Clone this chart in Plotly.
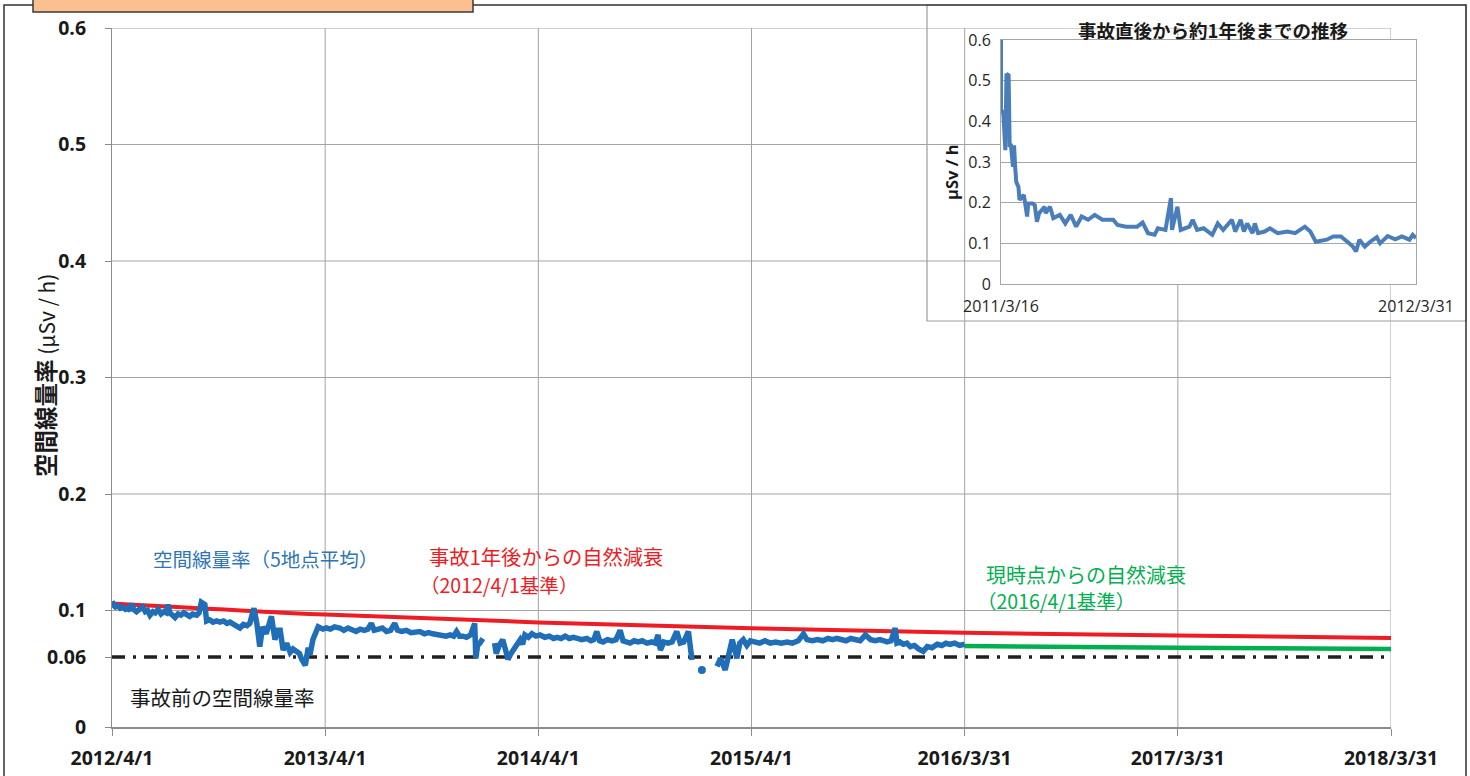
import plotly.graph_objects as go

W, H = 1470, 776
def px(x): return x / W
def py(y): return 1 - y / H

# ---------------- data ----------------
x_tick_dates = ["2012-04-01", "2013-04-01", "2014-04-01", "2015-04-01", "2016-03-31", "2017-03-31", "2018-03-31"]
x_tick_labels = ["2012/4/1", "2013/4/1", "2014/4/1", "2015/4/1", "2016/3/31", "2017/3/31", "2018/3/31"]
y_tick_vals = [0, 0.06, 0.1, 0.2, 0.3, 0.4, 0.5, 0.6]
y_tick_labels = ["0", "0.06", "0.1", "0.2", "0.3", "0.4", "0.5", "0.6"]
y_grid_vals = [0.1, 0.2, 0.3, 0.4, 0.5, 0.6]

rate_dates = [
    "2012-04-01", "2012-04-03", "2012-04-07", "2012-04-11", "2012-04-15", "2012-04-19", "2012-04-24", "2012-04-28",
    "2012-05-02", "2012-05-05", "2012-05-08", "2012-05-13", "2012-05-18", "2012-05-24", "2012-05-28", "2012-06-01",
    "2012-06-05", "2012-06-10", "2012-06-14", "2012-06-19", "2012-06-24", "2012-06-29", "2012-07-03", "2012-07-06",
    "2012-07-09", "2012-07-14", "2012-07-18", "2012-07-23", "2012-07-28", "2012-08-02", "2012-08-07", "2012-08-12",
    "2012-08-17", "2012-08-24", "2012-08-28", "2012-09-01", "2012-09-07", "2012-09-10", "2012-09-15", "2012-09-21",
    "2012-09-27", "2012-10-03", "2012-10-09", "2012-10-15", "2012-10-20", "2012-10-25", "2012-10-30", "2012-11-06",
    "2012-11-12", "2012-11-18", "2012-11-23", "2012-11-30", "2012-12-05", "2012-12-10", "2012-12-15", "2012-12-21",
    "2012-12-30", "2013-01-05", "2013-01-10", "2013-01-14", "2013-01-19", "2013-01-25", "2013-01-31", "2013-02-05",
    "2013-02-11", "2013-02-16", "2013-02-20", "2013-02-26", "2013-03-03", "2013-03-06", "2013-03-11", "2013-03-20",
    "2013-03-28", "2013-04-03", "2013-04-10", "2013-04-17", "2013-04-26", "2013-05-03", "2013-05-10", "2013-05-17",
    "2013-05-24", "2013-05-31", "2013-06-07", "2013-06-13", "2013-06-19", "2013-06-24", "2013-07-01", "2013-07-08",
    "2013-07-15", "2013-07-22", "2013-07-29", "2013-08-03", "2013-08-10", "2013-08-18", "2013-08-26", "2013-09-03",
    "2013-09-10", "2013-09-18", "2013-09-25", "2013-10-02", "2013-10-10", "2013-10-17", "2013-10-25", "2013-11-01",
    "2013-11-07", "2013-11-12", "2013-11-17", "2013-11-23", "2013-11-29", "2013-12-06", "2013-12-13", "2013-12-15",
    "2013-12-18", "2013-12-22", "2013-12-27", "2014-01-06", "2014-01-16", "2014-01-19", "2014-01-24", "2014-01-30",
    "2014-02-04", "2014-02-08", "2014-02-13", "2014-02-17", "2014-02-22", "2014-03-01", "2014-03-05", "2014-03-09",
    "2014-03-15", "2014-03-21", "2014-03-28", "2014-04-04", "2014-04-12", "2014-04-20", "2014-04-27", "2014-05-03",
    "2014-05-10", "2014-05-17", "2014-05-24", "2014-05-31", "2014-06-07", "2014-06-14", "2014-06-23", "2014-06-30",
    "2014-07-05", "2014-07-10", "2014-07-15", "2014-07-21", "2014-07-28", "2014-08-05", "2014-08-12", "2014-08-19",
    "2014-08-24", "2014-08-30", "2014-09-05", "2014-09-12", "2014-09-19", "2014-09-26", "2014-10-04", "2014-10-12",
    "2014-10-18", "2014-10-23", "2014-10-27", "2014-11-02", "2014-11-09", "2014-11-16", "2014-11-24", "2014-11-30",
    "2014-12-06", "2014-12-14", "2014-12-20", "2014-12-28", "2015-02-01", "2015-02-07", "2015-02-15", "2015-02-20",
    "2015-02-27", "2015-03-07", "2015-03-12", "2015-03-18", "2015-03-24", "2015-03-30", "2015-04-06", "2015-04-15",
    "2015-04-24", "2015-05-03", "2015-05-12", "2015-05-22", "2015-06-01", "2015-06-10", "2015-06-20", "2015-06-29",
    "2015-07-05", "2015-07-14", "2015-07-23", "2015-08-01", "2015-08-10", "2015-08-18", "2015-08-25", "2015-09-02",
    "2015-09-10", "2015-09-18", "2015-09-26", "2015-10-04", "2015-10-13", "2015-10-22", "2015-10-30", "2015-11-07",
    "2015-11-14", "2015-11-19", "2015-11-26", "2015-12-03", "2015-12-06", "2015-12-11", "2015-12-17", "2015-12-23",
    "2015-12-29", "2016-01-05", "2016-01-12", "2016-01-20", "2016-01-27", "2016-02-04", "2016-02-13", "2016-02-21",
    "2016-02-28", "2016-03-06", "2016-03-14", "2016-03-22", "2016-03-31",
]
rate_values = [
    0.108, 0.105, 0.103, 0.104, 0.102, 0.103, 0.101, 0.102,
    0.100, 0.106, 0.101, 0.099, 0.101, 0.103, 0.099, 0.100,
    0.096, 0.099, 0.098, 0.101, 0.097, 0.099, 0.098, 0.105,
    0.098, 0.096, 0.094, 0.097, 0.096, 0.098, 0.097, 0.095,
    0.097, 0.096, 0.098, 0.107, 0.105, 0.091, 0.092, 0.090,
    0.091, 0.090, 0.091, 0.089, 0.090, 0.088, 0.087, 0.085,
    0.088, 0.087, 0.089, 0.102, 0.089, 0.069, 0.086, 0.080,
    0.095, 0.075, 0.083, 0.083, 0.066, 0.072, 0.064, 0.067,
    0.065, 0.063, 0.058, 0.053, 0.068, 0.062, 0.075, 0.086,
    0.084, 0.085, 0.084, 0.086, 0.085, 0.083, 0.085, 0.083,
    0.082, 0.084, 0.083, 0.084, 0.089, 0.083, 0.084, 0.085,
    0.082, 0.083, 0.089, 0.083, 0.082, 0.083, 0.081, 0.082,
    0.082, 0.080, 0.081, 0.080, 0.079, 0.079, 0.078, 0.079,
    0.078, 0.082, 0.078, 0.078, 0.077, 0.079, 0.089, 0.059,
    0.070, 0.072, 0.076, None, 0.072, 0.063, 0.070, 0.075,
    0.066, 0.058, 0.063, 0.066, 0.070, 0.075, 0.071, 0.079,
    0.077, 0.080, 0.078, 0.079, 0.077, 0.078, 0.076, 0.077,
    0.076, 0.078, 0.076, 0.077, 0.076, 0.075, 0.076, 0.074,
    0.075, 0.082, 0.074, 0.073, 0.075, 0.074, 0.075, 0.083,
    0.074, 0.073, 0.072, 0.074, 0.073, 0.074, 0.072, 0.073,
    0.072, 0.079, 0.066, 0.073, 0.072, 0.073, 0.082, 0.072,
    0.073, 0.082, 0.0575, None, 0.052, 0.059, 0.049, 0.062,
    0.075, 0.059, 0.072, 0.075, 0.070, 0.074, 0.073, 0.072,
    0.074, 0.072, 0.073, 0.072, 0.073, 0.072, 0.074, 0.080,
    0.075, 0.074, 0.075, 0.074, 0.076, 0.075, 0.076, 0.075,
    0.074, 0.076, 0.075, 0.074, 0.079, 0.075, 0.074, 0.075,
    0.074, 0.073, 0.074, 0.085, 0.072, 0.073, 0.071, 0.072,
    0.069, 0.070, 0.067, 0.065, 0.069, 0.068, 0.071, 0.070,
    0.072, 0.071, 0.072, 0.070, 0.071,
]
dot_dates = ["2015-01-06"]
dot_values = [0.049]

decay_2012_dates = ["2012-04-01", "2013-04-01", "2014-04-01", "2015-04-01", "2016-03-31", "2017-03-31", "2018-03-31"]
decay_2012_values = [0.106, 0.0965, 0.0898, 0.0848, 0.081, 0.0785, 0.0765]
decay_2016_dates = ["2016-03-31", "2017-03-31", "2018-03-31"]
decay_2016_values = [0.0695, 0.068, 0.067]
pre_dates = ["2012-04-01", "2018-03-31"]
pre_values = [0.06, 0.06]

inset_dates = [
    "2011-03-16", "2011-03-16", "2011-03-18", "2011-03-20", "2011-03-21", "2011-03-23", "2011-03-24", "2011-03-25",
    "2011-03-27", "2011-03-28", "2011-03-29", "2011-03-30", "2011-04-01", "2011-04-02", "2011-04-06", "2011-04-07",
    "2011-04-09", "2011-04-10", "2011-04-14", "2011-04-16", "2011-04-18", "2011-04-20", "2011-04-25", "2011-04-26",
    "2011-04-30", "2011-05-03", "2011-05-09", "2011-05-14", "2011-05-19", "2011-05-24", "2011-05-29", "2011-06-04",
    "2011-06-10", "2011-06-17", "2011-06-27", "2011-07-01", "2011-07-09", "2011-07-19", "2011-07-24", "2011-07-29",
    "2011-08-04", "2011-08-07", "2011-08-14", "2011-08-19", "2011-08-20", "2011-08-25", "2011-08-28", "2011-09-05",
    "2011-09-08", "2011-09-12", "2011-09-18", "2011-09-26", "2011-10-01", "2011-10-06", "2011-10-14", "2011-10-17",
    "2011-10-22", "2011-10-25", "2011-10-28", "2011-11-02", "2011-11-04", "2011-11-07", "2011-11-13", "2011-11-18",
    "2011-11-25", "2011-12-04", "2011-12-11", "2011-12-20", "2011-12-25", "2011-12-30", "2012-01-09", "2012-01-15",
    "2012-01-22", "2012-01-28", "2012-02-02", "2012-02-05", "2012-02-08", "2012-02-13", "2012-02-18", "2012-02-24",
    "2012-02-27", "2012-03-05", "2012-03-12", "2012-03-18", "2012-03-25", "2012-03-28", "2012-03-31",
]
inset_values = [
    0.60, 0.419, 0.427, 0.329, 0.517, 0.513, 0.337, 0.345,
    0.288, 0.341, 0.288, 0.251, 0.239, 0.207, 0.219, 0.202,
    0.166, 0.198, 0.198, 0.194, 0.153, 0.174, 0.190, 0.174,
    0.190, 0.162, 0.170, 0.149, 0.170, 0.141, 0.166, 0.158,
    0.170, 0.158, 0.158, 0.145, 0.141, 0.141, 0.151, 0.125,
    0.121, 0.137, 0.133, 0.211, 0.133, 0.190, 0.133, 0.141,
    0.158, 0.133, 0.137, 0.121, 0.149, 0.133, 0.158, 0.129,
    0.158, 0.129, 0.149, 0.125, 0.149, 0.125, 0.129, 0.137,
    0.125, 0.129, 0.125, 0.141, 0.129, 0.104, 0.109, 0.117,
    0.117, 0.104, 0.092, 0.080, 0.109, 0.092, 0.104, 0.115,
    0.100, 0.118, 0.110, 0.117, 0.109, 0.121, 0.113,
]
inset_x_ticks = ["2011-03-16", "2012-03-31"]
inset_x_labels = ["2011/3/16", "2012/3/31"]
inset_y_ticks = [0, 0.1, 0.2, 0.3, 0.4, 0.5, 0.6]
inset_y_labels = ["0", "0.1", "0.2", "0.3", "0.4", "0.5", "0.6"]

# ---------------- styles ----------------
BLUE = "#1F6EB7"
RED = "#EE1C25"
GREEN = "#00B050"
GRID = "#A3A3A3"
CJK = "Noto Sans CJK JP"
NUM = "Open Sans"

fig = go.Figure()

fig.add_trace(go.Scatter(x=pre_dates, y=pre_values, mode="lines",
                         line=dict(color="#231F20", width=3.5, dash="13px,8px,3px,8px"),
                         xaxis="x", yaxis="y", hoverinfo="skip"))
fig.add_trace(go.Scatter(x=decay_2012_dates, y=decay_2012_values, mode="lines",
                         line=dict(color=RED, width=4, shape="spline"), xaxis="x", yaxis="y"))
fig.add_trace(go.Scatter(x=decay_2016_dates, y=decay_2016_values, mode="lines",
                         line=dict(color=GREEN, width=4.5, shape="spline"), xaxis="x", yaxis="y"))
fig.add_trace(go.Scatter(x=rate_dates, y=rate_values, mode="lines", connectgaps=False,
                         line=dict(color=BLUE, width=5.5), xaxis="x", yaxis="y"))
fig.add_trace(go.Scatter(x=dot_dates, y=dot_values, mode="markers",
                         marker=dict(color=BLUE, size=8), xaxis="x", yaxis="y"))
fig.add_trace(go.Scatter(x=inset_dates, y=inset_values, mode="lines",
                         line=dict(color="#4A7EBB", width=4), xaxis="x2", yaxis="y2"))

# ---------------- shapes ----------------
shapes = []
for d in x_tick_dates[1:]:
    shapes.append(dict(type="line", xref="x", yref="y", x0=d, x1=d, y0=0, y1=0.6,
                       line=dict(color=GRID, width=1), layer="below"))
for v in y_grid_vals:
    shapes.append(dict(type="line", xref="x", yref="y", x0=x_tick_dates[0], x1=x_tick_dates[-1], y0=v, y1=v,
                       line=dict(color=GRID, width=1), layer="below"))
# white text boxes covering grid
for (x0, y0, x1, y1) in [(150, 539, 382, 583), (414, 535, 680, 598), (973, 552, 1226, 613)]:
    shapes.append(dict(type="rect", xref="paper", yref="paper", x0=px(x0), x1=px(x1), y0=py(y1), y1=py(y0),
                       fillcolor="white", line=dict(width=0), layer="below"))
# inset box
shapes.append(dict(type="rect", xref="paper", yref="paper", x0=px(927), x1=px(1466), y0=py(321), y1=py(5),
                   fillcolor="white", line=dict(color="#9C9C9C", width=1.2), layer="below"))
# outer frame
shapes.append(dict(type="rect", xref="paper", yref="paper", x0=px(4), x1=px(1466), y0=py(800), y1=py(5),
                   fillcolor="rgba(0,0,0,0)", line=dict(color="#333333", width=1.5), layer="above"))
# orange title box (cut off at top)
shapes.append(dict(type="rect", xref="paper", yref="paper", x0=px(33), x1=px(473), y0=py(12), y1=py(-30),
                   fillcolor="#FAC08F", line=dict(color="#3A3A3A", width=1.5), layer="above"))

# ---------------- annotations ----------------
ann = []
ann.append(dict(text="<b>空間線量率</b><span style='font-size:21px'> (μSv / h)</span>", xref="paper", yref="paper",
                x=px(45), y=py(376),
                textangle=-90, showarrow=False, xanchor="center", yanchor="middle",
                font=dict(family=CJK, size=23.5, color="#1A1A1A")))
ann.append(dict(text="空間線量率（5地点平均）", xref="paper", yref="paper", x=px(265), y=py(558),
                showarrow=False, xanchor="center", yanchor="middle",
                font=dict(family=CJK, size=19.5, color="#2E75B6")))
ann.append(dict(text="事故1年後からの自然減衰", xref="paper", yref="paper", x=px(427), y=py(556),
                showarrow=False, xanchor="left", yanchor="middle",
                font=dict(family=CJK, size=20.3, color=RED)))
ann.append(dict(text="（2012/4/1基準）", xref="paper", yref="paper", x=px(418), y=py(584),
                showarrow=False, xanchor="left", yanchor="middle",
                font=dict(family=CJK, size=19.5, color=RED)))
ann.append(dict(text="現時点からの自然減衰", xref="paper", yref="paper", x=px(984), y=py(574),
                showarrow=False, xanchor="left", yanchor="middle",
                font=dict(family=CJK, size=20, color=GREEN)))
ann.append(dict(text="（2016/4/1基準）", xref="paper", yref="paper", x=px(975), y=py(600),
                showarrow=False, xanchor="left", yanchor="middle",
                font=dict(family=CJK, size=19.5, color=GREEN)))
ann.append(dict(text="事故前の空間線量率", xref="paper", yref="paper", x=px(128), y=py(697),
                showarrow=False, xanchor="left", yanchor="middle",
                font=dict(family=CJK, size=20.5, color="#1A1A1A")))
ann.append(dict(text="<b>事故直後から約1年後までの推移</b>", xref="paper", yref="paper", x=px(1213), y=py(30),
                showarrow=False, xanchor="center", yanchor="middle",
                font=dict(family=CJK, size=18.5, color="#1A1A1A")))
ann.append(dict(text="<b>μSv / h</b>", xref="paper", yref="paper", x=px(951), y=py(172),
                textangle=-90, showarrow=False, xanchor="center", yanchor="middle",
                font=dict(family=NUM, size=16.5, color="#1A1A1A")))

fig.update_layout(
    width=W, height=H, template="none",
    margin=dict(l=0, r=0, t=0, b=0),
    paper_bgcolor="white", plot_bgcolor="white",
    showlegend=False,
    shapes=shapes, annotations=ann,
    xaxis=dict(domain=[px(112), px(1391)], type="date", range=[x_tick_dates[0], x_tick_dates[-1]],
               tickmode="array", tickvals=x_tick_dates, ticktext=x_tick_labels,
               showgrid=False, zeroline=False, showline=True, linecolor="#8C8C8C", linewidth=1.5,
               ticks="outside", ticklen=7, tickcolor="#8C8C8C", ticklabelstandoff=6,
               tickfont=dict(family=NUM, size=19.5, color="#1A1A1A", weight="bold"),
               anchor="y", automargin=False, fixedrange=True),
    yaxis=dict(domain=[py(727), py(28)], range=[0, 0.6],
               tickmode="array", tickvals=y_tick_vals, ticktext=y_tick_labels,
               showgrid=False, zeroline=False, showline=True, linecolor="#8C8C8C", linewidth=1,
               ticks="outside", ticklen=6, tickcolor="#8C8C8C", ticklabelstandoff=15,
               tickfont=dict(family=NUM, size=19.5, color="#1A1A1A", weight="bold"),
               anchor="x", automargin=False, fixedrange=True),
    xaxis2=dict(domain=[px(1001), px(1416)], type="date", range=[inset_x_ticks[0], inset_x_ticks[-1]],
                tickmode="array", tickvals=inset_x_ticks, ticktext=inset_x_labels,
                showgrid=False, zeroline=False, showline=True, mirror=True, linecolor="#A6A6A6", linewidth=1,
                ticks="", ticklabelstandoff=8,
                tickfont=dict(family=NUM, size=16, color="#262626"),
                anchor="y2", automargin=False, fixedrange=True),
    yaxis2=dict(domain=[py(284), py(40)], range=[0, 0.6],
                tickmode="array", tickvals=inset_y_ticks, ticktext=inset_y_labels,
                showgrid=True, gridcolor="#A6A6A6", gridwidth=1,
                zeroline=False, showline=True, mirror=True, linecolor="#A6A6A6", linewidth=1,
                ticks="", ticklabelstandoff=6,
                tickfont=dict(family=NUM, size=16, color="#262626"),
                anchor="x2", automargin=False, fixedrange=True),
)

fig.write_html("out.html", config={"displayModeBar": False},
               post_script="document.body.style.margin='0';document.body.style.overflow='hidden';")
